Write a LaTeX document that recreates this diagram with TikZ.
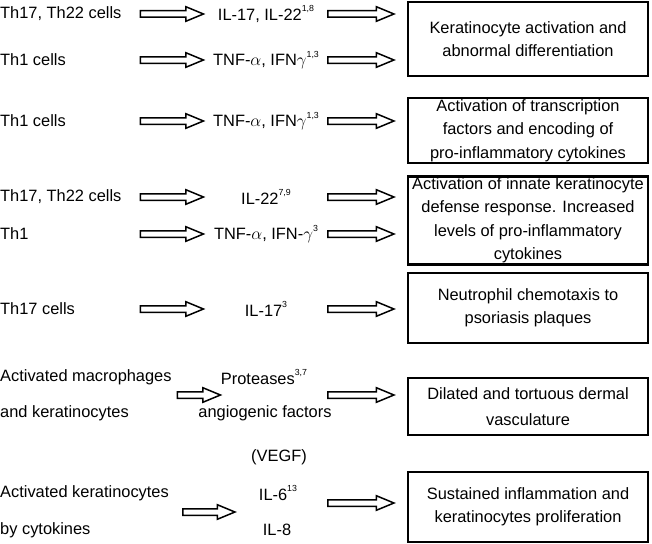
\documentclass[tikz,border=0pt]{standalone}
\usepackage{fontspec}
\setmainfont{Liberation Sans}
\usetikzlibrary{positioning,shapes.arrows}
\newcommand{\refsup}[1]{\raisebox{0.5em}{\fontsize{8.8}{9}\selectfont #1}}
\tikzset{
  base/.style   ={font=\fontsize{16.4}{23.5}\selectfont, inner sep=0pt},
  cell/.style   ={base, anchor=west},
  cyto/.style   ={base, align=center},
  effect/.style ={base, draw, line width=2.3pt, align=center,
                  minimum width=240pt, inner xsep=3pt, inner ysep=1pt},
  barr/.style   ={single arrow, draw, line width=1.5pt, inner sep=0pt, inner ysep=2.5pt,
                  minimum height=63pt, single arrow head extend=4pt,
                  single arrow tip angle=45},
  barrl/.style  ={barr, minimum height=66pt},
}
\begin{document}
\begin{tikzpicture}[x=1pt,y=-1pt]
\useasboundingbox (0,0) rectangle (652,543);

% Th17/Th22 and Th1 -> keratinocytes
\node[cell] (thA) at (0,14) {Th17, Th22 cells};
\node[barr] (aA) at (168,14) {};
\node[cyto] (ilA) at (266,14) {IL-17, IL-22\refsup{1,8}};
\node[barrl] (bA) at (357,14) {};
\node[cell] (thB) at (0,60) {Th1 cells};
\node[barr] (aB) at (168,60) {};
\node[cyto] (tnfB) at (266,60) {TNF-\(\alpha\), IFN\(\gamma\)\refsup{1,3}};
\node[barrl] (bB) at (357,60) {};
\node[effect, minimum height=74pt] (kact) at (528,39)
   {Keratinocyte activation and\\ abnormal differentiation};

% Th1 -> transcription factors
\node[cell] (thC) at (0,121) {Th1 cells};
\node[barr] (aC) at (168,121) {};
\node[cyto] (tnfC) at (266,121) {TNF-\(\alpha\), IFN\(\gamma\)\refsup{1,3}};
\node[barrl] (bC) at (357,121) {};
\node[effect, minimum height=65pt] (trans) at (528,130.5)
   {Activation of transcription\\ factors and encoding of\\ pro-inflammatory cytokines};

% innate defense
\node[cell] (thD) at (0,197) {Th17, Th22 cells};
\node[barr] (aD) at (168,197) {};
\node[cyto] (ilD) at (266,197) {IL-22\refsup{7,9}};
\node[barrl] (bD) at (357,197) {};
\node[cell] (thE) at (0,234) {Th1};
\node[barr] (aE) at (168,234) {};
\node[cyto] (tnfE) at (266,234) {TNF-\(\alpha\), IFN-\(\gamma\)\refsup{3}};
\node[barrl] (bE) at (357,234) {};
\node[effect, minimum height=87pt] (innate) at (528,220.5)
   {Activation of innate keratinocyte\\ defense response. Increased\\
    levels of pro-inflammatory\\ cytokines};

% neutrophils
\node[cell] (thF) at (0,309) {Th17 cells};
\node[barr] (aF) at (168,309) {};
\node[cyto] (ilF) at (266,309) {IL-17\refsup{3}};
\node[barrl] (bF) at (357,309) {};
\node[effect, minimum height=70pt] (neut) at (528,308)
   {Neutrophil chemotaxis to\\ psoriasis plaques};

% vasculature
\node[cell] (macG) at (0,377) {Activated macrophages};
\node[cell] (kerG) at (0,413) {and keratinocytes};
\node[barr, minimum height=43pt] (aG) at (195,395) {};
\node[cyto] (protG) at (264,377) {Proteases\refsup{3,7}};
\node[cyto] (angG) at (265,413) {angiogenic factors};
\node[cyto, below=29pt of angG, xshift=14pt] (vegf) {(VEGF)};
\node[barrl] (bG) at (357,395) {};
\node[effect, minimum height=57pt] (vasc) at (528,406.5)
   {Dilated and tortuous dermal\\[3pt] vasculature};

% sustained inflammation
\node[cell] (kerH) at (0,493) {Activated keratinocytes};
\node[cell] (cytH) at (0,530) {by cytokines};
\node[barr, minimum height=52pt] (aH) at (205,512) {};
\node[cyto] (il6) at (278,493) {IL-6\refsup{13}};
\node[cyto] (il8) at (277,530) {IL-8};
\node[barrl] (bH) at (357,503) {};
\node[effect, minimum height=70pt] (sust) at (528,507)
   {Sustained inflammation and\\ keratinocytes proliferation};
\end{tikzpicture}
\end{document}
